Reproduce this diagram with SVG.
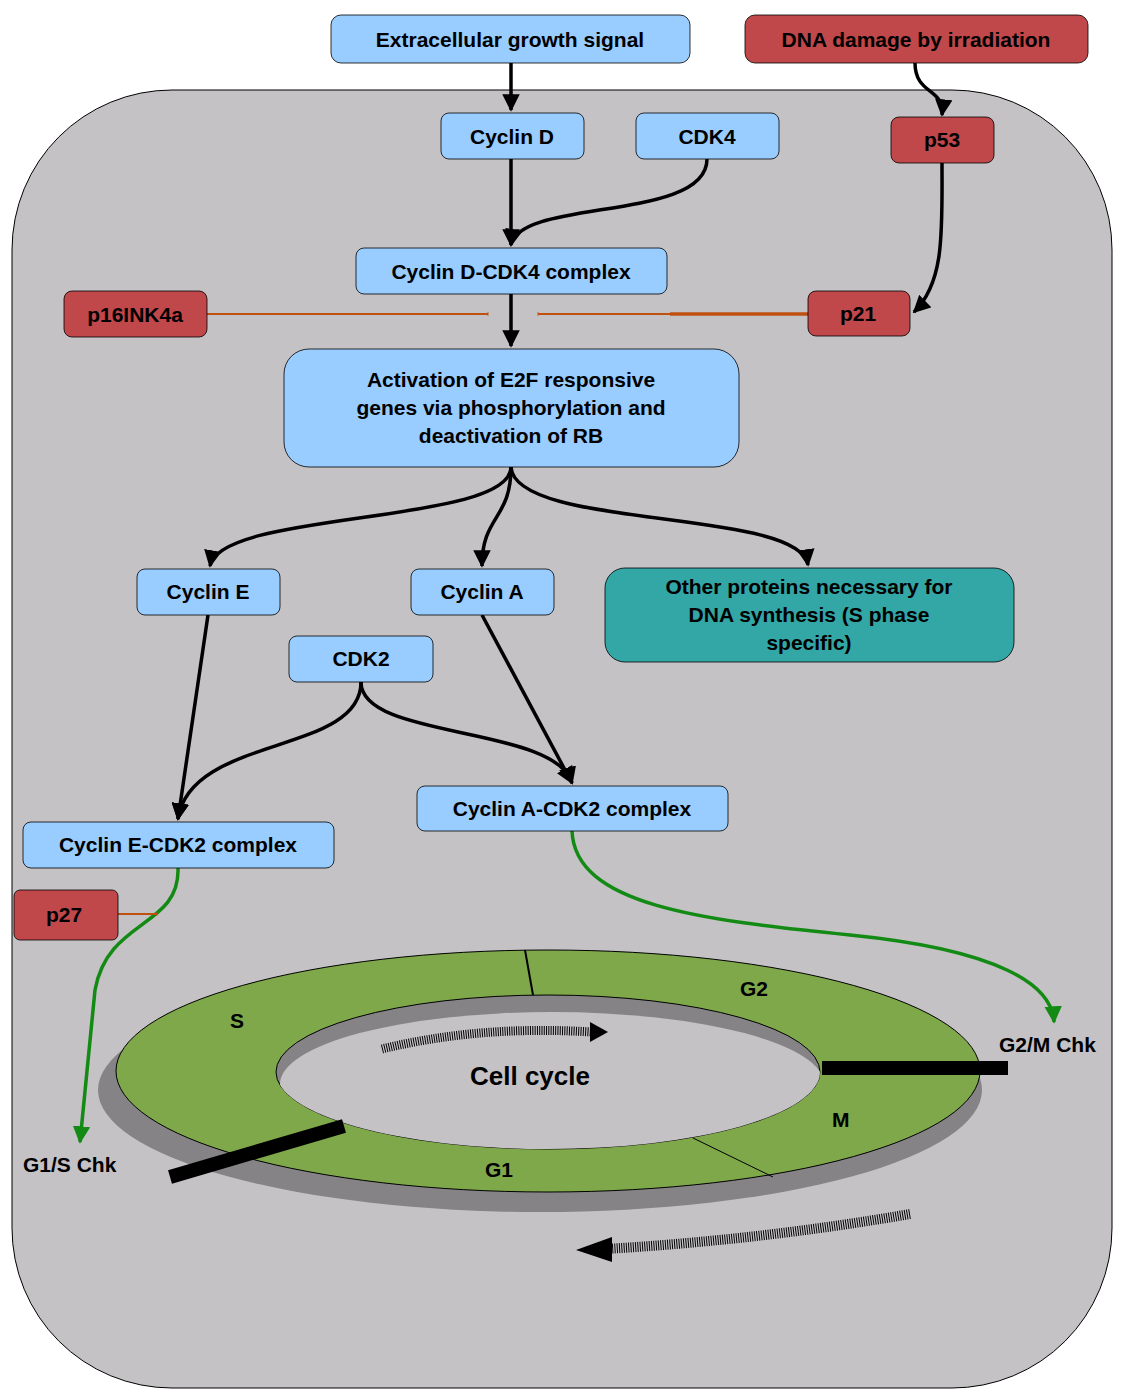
<svg xmlns="http://www.w3.org/2000/svg" width="1122" height="1400" viewBox="0 0 1122 1400">
<defs>
<style>
.b{fill:#99ccff;stroke:#000;stroke-width:0.8}
.r{fill:#c0474a;stroke:#000;stroke-width:0.8}
.t{fill:#33a6a6;stroke:#000;stroke-width:0.8}
text{font-family:"Liberation Sans",Arial,sans-serif;font-weight:bold;font-size:21px;fill:#000}
.c text{text-anchor:middle}
.k{fill:none;stroke:#000;stroke-width:3.5}
.g{fill:none;stroke:#138a13;stroke-width:3.5}
.o{fill:none;stroke:#c05010;stroke-width:2}
</style>
<marker id="a" viewBox="0 0 10 10" refX="9" refY="5" markerWidth="5" markerHeight="5" orient="auto" markerUnits="strokeWidth"><path d="M0,0L10,5L0,10z" fill="#000"/></marker>
<marker id="ag" viewBox="0 0 10 10" refX="9" refY="5" markerWidth="5" markerHeight="5" orient="auto" markerUnits="strokeWidth"><path d="M0,0L10,5L0,10z" fill="#138a13"/></marker>
<marker id="ab" viewBox="0 0 10 10" refX="5" refY="5" markerWidth="4" markerHeight="10" orient="auto" markerUnits="userSpaceOnUse"><path d="M5,0V10" stroke="#c05010" stroke-width="2"/></marker>
<clipPath id="hole"><ellipse cx="548" cy="1072" rx="272" ry="77"/></clipPath>
</defs>
<rect x="12" y="90" width="1100" height="1298" rx="160" fill="#c4c2c5" stroke="#000"/>

<g id="cycle">
<ellipse cx="540" cy="1090" rx="442" ry="122" fill="#858385"/>
<ellipse cx="548" cy="1071" rx="432" ry="121" fill="#7fa84b" stroke="#000"/>
<ellipse cx="548" cy="1072" rx="272" ry="77" fill="#858385" stroke="#000"/>
<ellipse cx="552" cy="1084" rx="272" ry="72" fill="#c4c2c5" clip-path="url(#hole)"/>
<line x1="525" y1="950" x2="533" y2="995" stroke="#000" stroke-width="2"/>
<line x1="693" y1="1138" x2="773" y2="1177" stroke="#000" stroke-width="1"/>
<rect x="822" y="1061" width="186" height="14" fill="#000"/>
<line x1="170" y1="1177" x2="344" y2="1126" stroke="#000" stroke-width="14"/>
<path d="M382,1049 Q480,1025 592,1032" fill="none" stroke="#000" stroke-width="9" stroke-dasharray="1 1.3"/>
<path d="M590,1022 L608,1032 L590,1042z" fill="#000"/>
<path d="M910,1214 Q760,1240 605,1249" fill="none" stroke="#000" stroke-width="10" stroke-dasharray="1 1.3"/>
<path d="M612,1237 L576,1250 L612,1262z" fill="#000"/>
<text x="230" y="1028">S</text>
<text x="740" y="996">G2</text>
<text x="832" y="1127">M</text>
<text x="485" y="1177">G1</text>
<text x="470" y="1085" style="font-size:26px">Cell cycle</text>
<text x="999" y="1052">G2/M Chk</text>
<text x="23" y="1172">G1/S Chk</text>
</g>

<g id="connectors">
<path class="k" d="M511,63 V110" marker-end="url(#a)"/>
<path class="k" d="M915,63 C915,95 945,88 942,115" marker-end="url(#a)"/>
<path class="k" d="M511,159 V245" marker-end="url(#a)"/>
<path class="k" d="M707,159 C707,222 520,198 511,245" marker-end="url(#a)"/>
<path class="k" d="M942,163 C942,230 945,282 914,312" marker-end="url(#a)"/>
<path class="k" d="M511,294 V346" marker-end="url(#a)"/>
<path class="o" d="M207,314 H488" marker-end="url(#ab)"/>
<path class="o" d="M808,314 H538" marker-end="url(#ab)"/>
<path d="M670,314 H808" stroke="#c05010" stroke-width="3.5"/>
<path class="k" d="M511,467 C511,525 220,510 210,566" marker-end="url(#a)"/>
<path class="k" d="M511,467 C511,520 482,515 482,566" marker-end="url(#a)"/>
<path class="k" d="M511,467 C515,530 800,508 808,565" marker-end="url(#a)"/>
<path class="k" d="M208,615 L178,819" marker-end="url(#a)"/>
<path class="k" d="M361,682 C361,755 190,735 178,819" marker-end="url(#a)"/>
<path class="k" d="M361,682 C361,740 555,725 572,783" marker-end="url(#a)"/>
<path class="k" d="M482,615 L572,783" marker-end="url(#a)"/>
<path class="g" d="M178,868 C180,928 108,918 95,990 L80,1142" marker-end="url(#ag)"/>
<path class="o" d="M118,914 H157" marker-end="url(#ab)"/>
<path class="g" d="M572,831 C575,905 700,920 850,935 C1000,950 1052,985 1054,1022" marker-end="url(#ag)"/>
</g>

<g class="c">
<g id="n_signal"><rect class="b" x="331" y="15" width="359" height="48" rx="10"/><text x="510" y="47">Extracellular growth signal</text></g>
<g id="n_dna"><rect class="r" x="745" y="15" width="343" height="48" rx="10"/><text x="916" y="47">DNA damage by irradiation</text></g>
<g id="n_cycd"><rect class="b" x="441" y="113" width="143" height="46" rx="8"/><text x="512" y="144">Cyclin D</text></g>
<g id="n_cdk4"><rect class="b" x="636" y="113" width="143" height="46" rx="8"/><text x="707" y="144">CDK4</text></g>
<g id="n_p53"><rect class="r" x="891" y="117" width="103" height="46" rx="8"/><text x="942" y="147">p53</text></g>
<g id="n_cdcomplex"><rect class="b" x="356" y="248" width="311" height="46" rx="8"/><text x="511" y="279">Cyclin D-CDK4 complex</text></g>
<g id="n_p16"><rect class="r" x="64" y="291" width="143" height="46" rx="8"/><text x="135" y="322">p16INK4a</text></g>
<g id="n_p21"><rect class="r" x="808" y="291" width="102" height="45" rx="8"/><text x="858" y="321">p21</text></g>
<g id="n_e2f"><rect class="b" x="284" y="349" width="455" height="118" rx="25"/><text x="511" y="387">Activation of E2F responsive</text><text x="511" y="415">genes via phosphorylation and</text><text x="511" y="443">deactivation of RB</text></g>
<g id="n_cyce"><rect class="b" x="137" y="569" width="143" height="46" rx="8"/><text x="208" y="599">Cyclin E</text></g>
<g id="n_cyca"><rect class="b" x="411" y="569" width="143" height="46" rx="8"/><text x="482" y="599">Cyclin A</text></g>
<g id="n_other"><rect class="t" x="605" y="568" width="409" height="94" rx="20"/><text x="809" y="594">Other proteins necessary for</text><text x="809" y="622">DNA synthesis (S phase</text><text x="809" y="650">specific)</text></g>
<g id="n_cdk2"><rect class="b" x="289" y="636" width="144" height="46" rx="8"/><text x="361" y="666">CDK2</text></g>
<g id="n_cacomplex"><rect class="b" x="417" y="786" width="311" height="45" rx="8"/><text x="572" y="816">Cyclin A-CDK2 complex</text></g>
<g id="n_cecomplex"><rect class="b" x="23" y="822" width="311" height="46" rx="8"/><text x="178" y="852">Cyclin E-CDK2 complex</text></g>
<g id="n_p27"><rect class="r" x="14" y="890" width="104" height="50" rx="6"/><text x="64" y="922">p27</text></g>
</g>
</svg>
